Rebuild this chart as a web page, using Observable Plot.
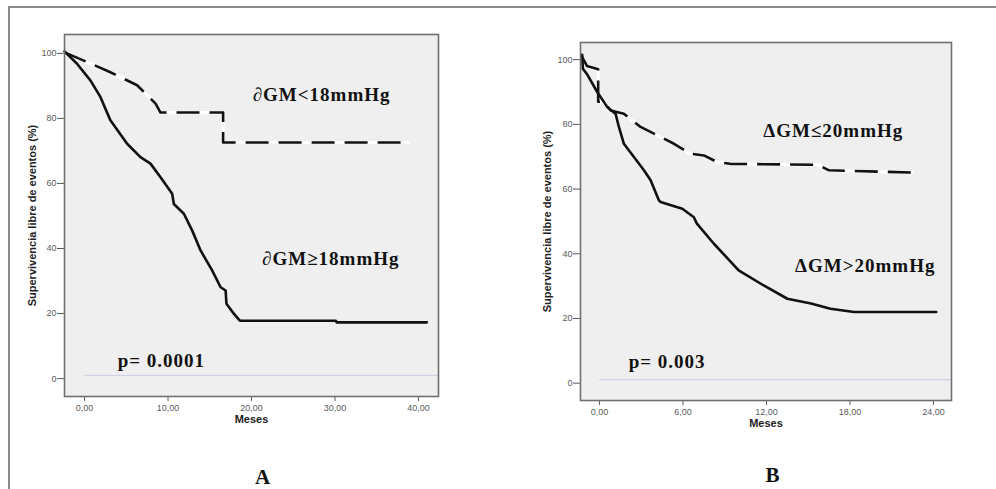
<!DOCTYPE html>
<html><head><meta charset="utf-8">
<script src="https://cdn.jsdelivr.net/npm/d3@7"></script>
<script src="https://cdn.jsdelivr.net/npm/@observablehq/plot@0.6"></script>
<style>
html,body{margin:0;padding:0;background:#fff;}
#wrap{position:relative;width:996px;height:489px;overflow:hidden;background:#fff;}
#border{position:absolute;left:8px;top:6px;width:1000px;height:500px;border-top:2px solid #8c8c8c;border-left:2px solid #8c8c8c;z-index:2;pointer-events:none;}
.panel{position:absolute;top:0;}
.letter{position:absolute;font-family:"Liberation Serif",serif;font-weight:bold;font-size:21px;color:#111;transform:translate(-50%,-50%);letter-spacing:1px;}
</style></head>
<body>
<div id="wrap"><div id="border"></div><div id="pa" class="panel" style="left:0px"></div><div id="pb" class="panel" style="left:500px"></div></div>
<script>
// ---------- data ----------
const yTicks = [0, 20, 40, 60, 80, 100];
const xLabel = "Meses";
const yLabel = "Supervivencia libre de eventos (%)";
const panelLetters = ["A", "B"];

// Panel A
const xTicksA = [0, 10, 20, 30, 40];
const monthsA_low = [-2.4, 0.7, 3.1, 6.3, 8.5, 9.1, 16.6, 16.6, 38.8];
const survA_low   = [100.3, 96.9, 94.2, 90.2, 84.6, 81.8, 81.8, 72.6, 72.6];
const monthsA_high = [-2.4, -0.9, 0.7, 1.9, 3.1, 5.1, 6.7, 7.9, 9.1, 10.5, 10.7, 11.9, 12.9, 13.9, 15.3, 16.3, 16.9, 17.0, 17.9, 18.6, 30.1, 30.2, 41.0];
const survA_high   = [100.6, 96.8, 91.7, 86.6, 79.4, 72.2, 68.1, 66.1, 61.9, 56.8, 53.7, 50.7, 45.5, 39.4, 33.2, 28.1, 27.1, 23.0, 19.9, 17.8, 17.8, 17.3, 17.3];
const baseA_x = [0, 42.4];
const baseA_y = [1, 1];
const labelsA = ["\u2202GM<18mmHg", "\u2202GM\u226518mmHg", "p= 0.0001"];
const labelXA = [28.4, 29.5, 9.2];
const labelYA = [87.1, 36.9, 5.5];

// Panel B
const xTicksB = [0, 6, 12, 18, 24];
const monthsB_low = [-1.25, -0.9, -0.1, -0.1, 0.3, 0.8, 1.75, 2.95, 4.15, 5.35, 6.55, 7.5, 8.47, 9.4, 15.7, 16.5, 22.5];
const survB_low   = [100.8, 98.0, 97.0, 87.0, 87.0, 84.3, 83.3, 79.2, 76.6, 74.0, 70.9, 70.4, 68.3, 67.8, 67.5, 65.8, 65.1];
const monthsB_high = [-1.25, -1.2, -0.9, -0.17, 0.55, 1.15, 1.39, 1.75, 2.47, 3.19, 3.67, 4.27, 4.39, 5.95, 6.78, 7.0, 8.22, 10.0, 11.8, 13.5, 15.2, 16.6, 18.3, 24.2];
const survB_high   = [101.5, 97.2, 95.5, 90.0, 85.4, 83.3, 79.2, 74.0, 69.9, 65.8, 62.7, 56.5, 56.0, 53.9, 51.3, 49.3, 43.1, 34.9, 30.2, 26.1, 24.6, 23.0, 22.0, 22.0];
const baseB_x = [0, 25.3];
const baseB_y = [1.1, 1.1];
const labelsB = ["\u0394GM\u226420mmHg", "\u0394GM>20mmHg", "p= 0.003"];
const labelXB = [16.8, 19.1, 4.86];
const labelYB = [78.1, 36.1, 6.7];

// ---------- drawing ----------
const zip = (xs, ys) => xs.map((x, i) => ({x, y: ys[i]}));
const fmt = d => d.toFixed(2).replace(".", ",");

function km(c) {
  const low = zip(c.lowX, c.lowY), high = zip(c.highX, c.highY), base = zip(c.baseX, c.baseY);
  const ann = c.labels.map((t, i) => ({t, x: c.labX[i], y: c.labY[i]}));
  const svg = Plot.plot({
    width: c.width, height: 440,
    marginLeft: c.ml, marginTop: c.mt, marginRight: c.mr, marginBottom: c.mb,
    x: {domain: c.xDomain, ticks: c.xTicks, tickFormat: fmt, tickSize: 5, tickPadding: 3, label: null},
    y: {domain: c.yDomain, ticks: yTicks, tickSize: 7, tickPadding: 1, label: null},
    style: {background: "none", color: "#5a5a5a", fontFamily: "'Liberation Sans', Arial, sans-serif", fontSize: "9px", overflow: "visible"},
    marks: [
      Plot.frame({fill: "#efefef", stroke: null}),
      Plot.line(base, {x: "x", y: "y", stroke: "#c9cfe0", strokeWidth: 1}),
      Plot.line(low, {x: "x", y: "y", stroke: "#fff", strokeWidth: 3.2}),
      Plot.line(low, {x: "x", y: "y", stroke: "#111", strokeWidth: 2.6, strokeDasharray: "23,10", strokeLinecap: "butt"}),
      Plot.line(high, {x: "x", y: "y", stroke: "#111", strokeWidth: 2.6}),
      Plot.text(ann, {x: "x", y: "y", text: "t", fontFamily: "Liberation Serif", fontWeight: "bold", fontSize: 19, fill: "#111"}),
      Plot.text([xLabel], {frameAnchor: "bottom", dy: c.xlabDy, fontWeight: "bold", fontSize: 11, fill: "#222", text: d => d}),
      Plot.text([yLabel], {frameAnchor: "left", textAnchor: "middle", dx: c.ylabDx, rotate: -90, fontWeight: "bold", fontSize: 11, fill: "#222", text: d => d}),
      Plot.frame({stroke: "#707070", strokeWidth: 1.6})
    ]
  });
  d3.select(svg).selectAll('g[font-family="Liberation Serif"] text').attr("letter-spacing", "1px");
  return svg;
}

document.getElementById("pa").appendChild(km({
  width: 460, ml: 64, mt: 34, mr: 22, mb: 44,
  xDomain: [-2.4, 42.4], yDomain: [-5.5, 105.8], xTicks: xTicksA,
  lowX: monthsA_low, lowY: survA_low, highX: monthsA_high, highY: survA_high,
  baseX: baseA_x, baseY: baseA_y,
  labels: labelsA, labX: labelXA, labY: labelYA, xlabDy: 26, ylabDx: -32
}));
document.getElementById("pb").appendChild(km({
  width: 480, ml: 80, mt: 42, mr: 29, mb: 40,
  xDomain: [-1.37, 25.3], yDomain: [-5.35, 105.3], xTicks: xTicksB,
  lowX: monthsB_low, lowY: survB_low, highX: monthsB_high, highY: survB_high,
  baseX: baseB_x, baseY: baseB_y,
  labels: labelsB, labX: labelXB, labY: labelYB, xlabDy: 26, ylabDx: -33
}));

const letterPos = [[263, 477], [773, 475]];
panelLetters.forEach((t, i) => {
  const d = document.createElement("div");
  d.className = "letter";
  d.style.left = letterPos[i][0] + "px";
  d.style.top = letterPos[i][1] + "px";
  d.textContent = t;
  document.getElementById("wrap").appendChild(d);
});
</script>
</body></html>
